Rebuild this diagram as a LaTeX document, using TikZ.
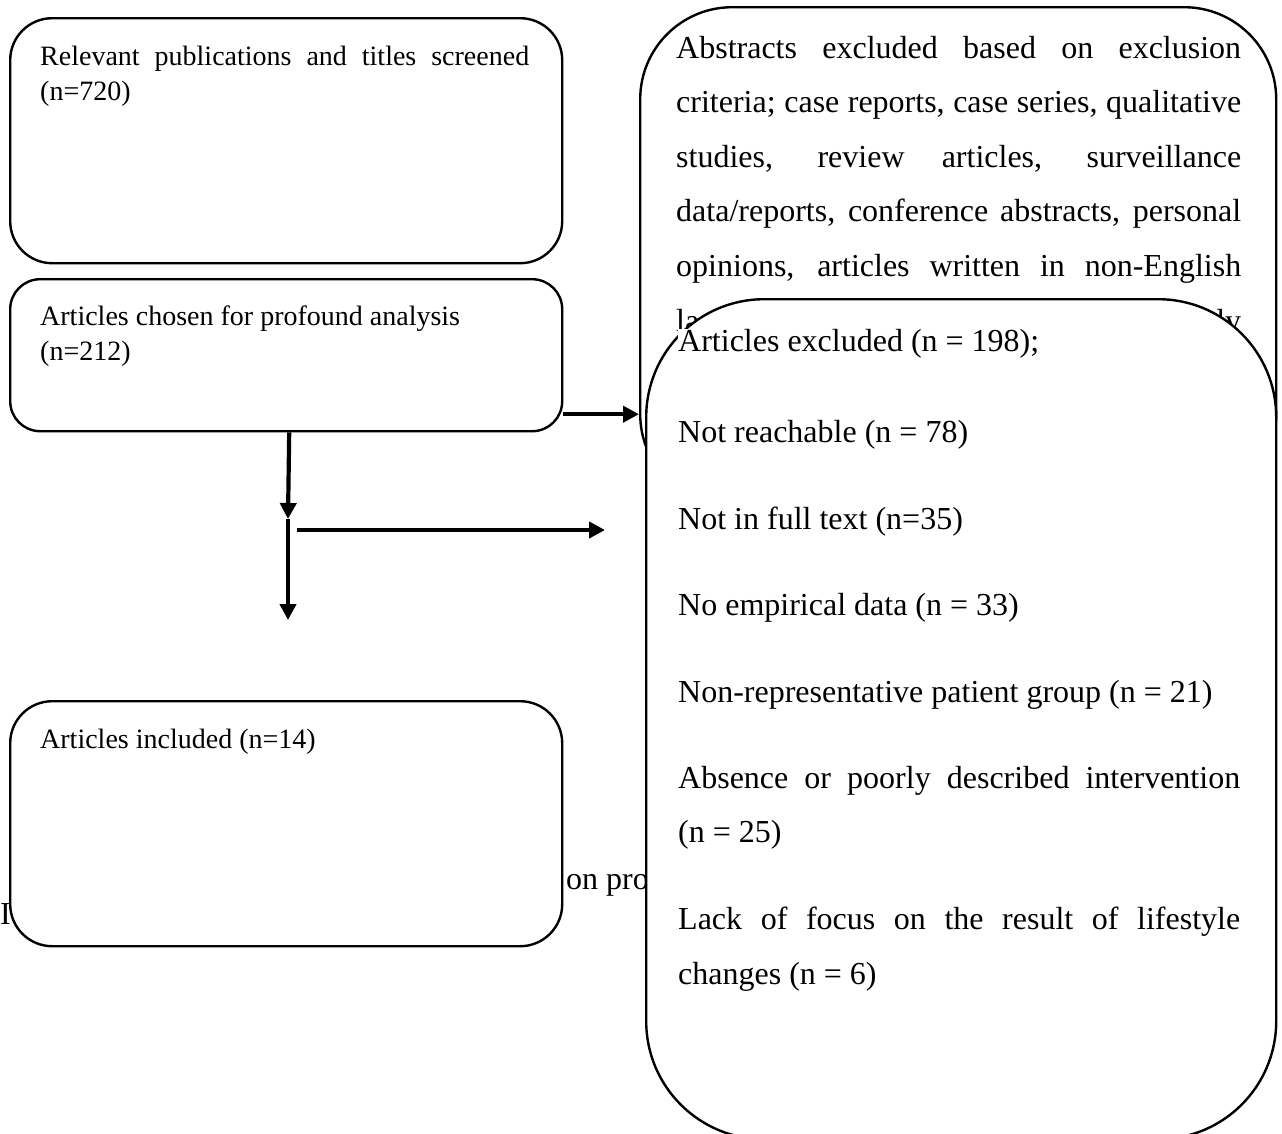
\documentclass[tikz,border=0pt]{standalone}
\usepackage{fontspec}
\setmainfont{Liberation Serif}
\usetikzlibrary{arrows.meta}
\begin{document}
\begin{tikzpicture}[x=1pt,y=-1pt,
  box/.style={draw=black, line width=2.4pt, fill=white, inner sep=0pt, anchor=north west},
  txtL/.style={anchor=base west, inner sep=0pt, font=\fontsize{28}{35}\selectfont},
  txtR/.style={anchor=base west, inner sep=0pt, font=\fontsize{32}{40}\selectfont, fill=white},
  txtS/.style={anchor=base west, inner sep=0pt, font=\fontsize{32}{40}\selectfont},
  arr/.style={line width=4.2pt, -{Triangle[length=16pt,width=16pt]}},
]
\useasboundingbox (0,0) rectangle (1282,1133);
\fill[white] (0,0) rectangle (1282,1133);

% stray text partly hidden behind the boxes
\node[txtS] (s1) at (566,889) {on pro};
\node[txtS] (s2) at (0,924) {I};

% left column
\node[box, rounded corners=42pt, minimum width=552pt, minimum height=245pt] (b1) at (9,17) {};
\node[txtL] (b1a) at (40,65) {\makebox[489pt][s]{Relevant publications and titles screened}};
\node[txtL] (b1b) at (40,100) {(n=720)};

\node[box, rounded corners=30pt, minimum width=552pt, minimum height=152pt] (b2) at (9,278) {};
\node[txtL] (b2a) at (40,325) {Articles chosen for profound analysis};
\node[txtL] (b2b) at (40,360) {(n=212)};

\node[box, rounded corners=42pt, minimum width=552pt, minimum height=245pt] (b3) at (9,700) {};
\node[txtL] (b3a) at (40,748) {Articles included (n=14)};

% abstracts excluded box
\node[box, rounded corners=92pt, minimum width=636pt, minimum height=499pt] (ab) at (639,6) {};
\node[txtR] (ab1) at (676,58) {\makebox[565pt][s]{Abstracts excluded based on exclusion}};
\node[txtR] (ab2) at (676,112.6) {\makebox[565pt][s]{criteria; case reports, case series, qualitative}};
\node[txtR] (ab3) at (676,167.2) {\makebox[565pt][s]{studies, review articles, surveillance}};
\node[txtR] (ab4) at (676,221.8) {\makebox[565pt][s]{data/reports, conference abstracts, personal}};
\node[txtR] (ab5) at (676,276.4) {\makebox[565pt][s]{opinions, articles written in non-English}};
\node[txtR] (ab6) at (676,331) {\makebox[565pt][s]{la\hfill ly}};

% articles excluded box
\node[box, rounded corners=118pt, minimum width=630pt, minimum height=840pt] (ex) at (645,298) {};
\node[txtR] (ex1) at (678,351) {Articles excluded (n = 198);};
\node[txtR] (ex2) at (678,442) {Not reachable (n = 78)};
\node[txtR] (ex3) at (678,529) {Not in full text (n=35)};
\node[txtR] (ex4) at (678,615) {No empirical data (n = 33)};
\node[txtR] (ex5) at (678,702) {Non-representative patient group (n = 21)};
\node[txtR] (ex6) at (678,788) {\makebox[562pt][s]{Absence or poorly described intervention}};
\node[txtR] (ex7) at (678,842) {(n = 25)};
\node[txtR] (ex8) at (678,929) {\makebox[562pt][s]{Lack of focus on the result of lifestyle}};
\node[txtR] (ex9) at (678,984) {changes (n = 6)};

% connectors
\coordinate (m1) at (288,519);
\coordinate (m2) at (288,620);
\coordinate (h1) at (297,530);
\coordinate (h2) at (605,530);
\draw[arr] ([yshift=-59pt]b2.east) -- ([yshift=-59pt]b2.east -| ab.west);
\draw[arr] ([xshift=3pt]b2.south) -- (m1);
\draw[arr] (m1) -- (m2);
\draw[arr] (h1) -- (h2);
\end{tikzpicture}
\end{document}
